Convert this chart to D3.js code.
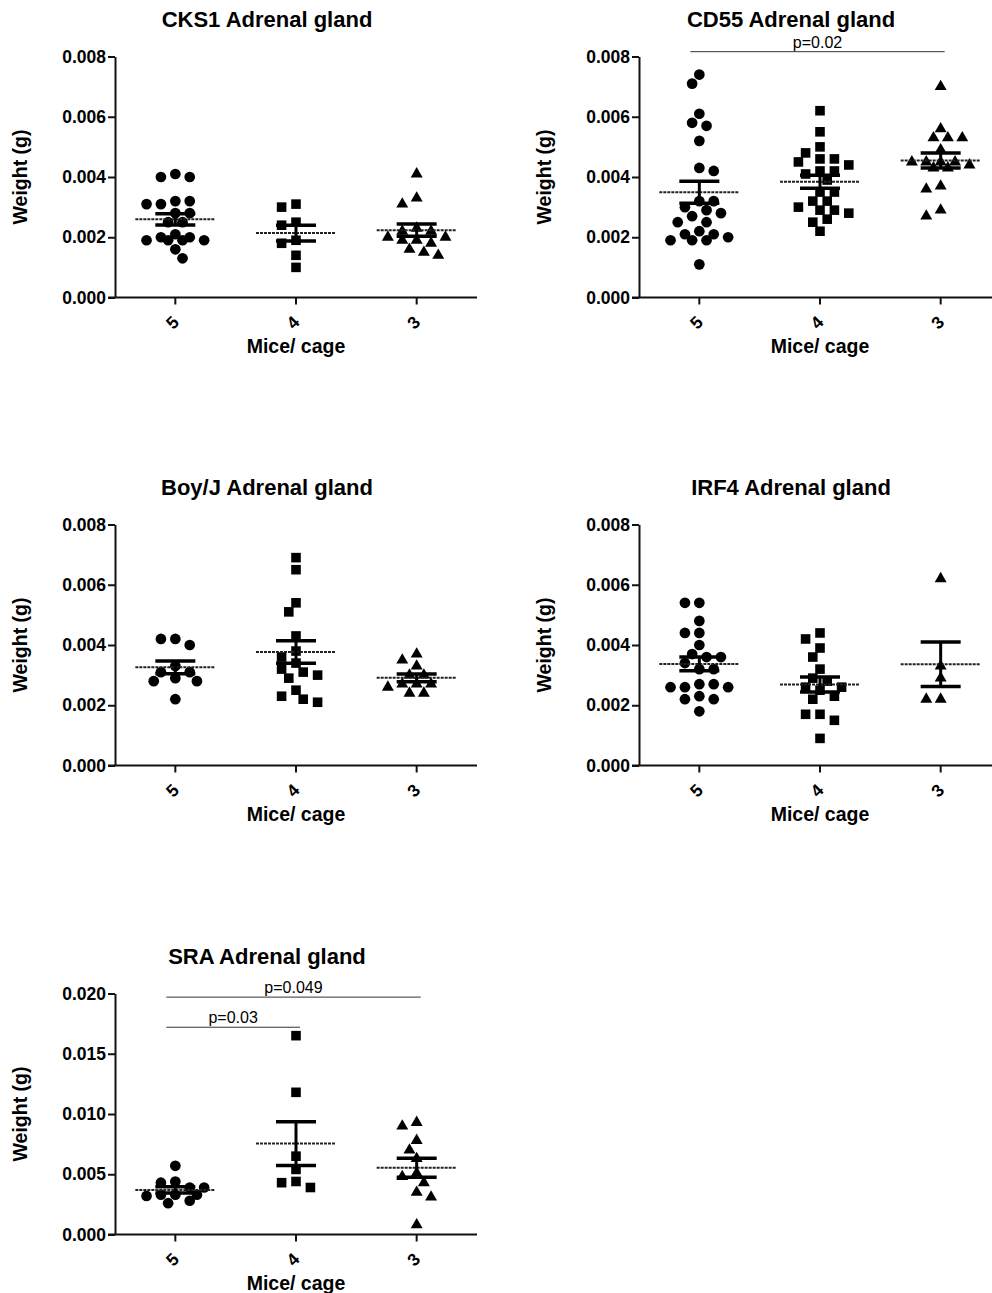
<!DOCTYPE html>
<html>
<head>
<meta charset="utf-8">
<script src="https://cdn.jsdelivr.net/npm/d3@7"></script>
<style>
  body { margin: 0; background: #fff; }
  text { font-family: "Liberation Sans", Arial, Helvetica, sans-serif; fill: #000; }
</style>
</head>
<body>
<svg id="chart" width="992" height="1293"></svg>
<script>
// Housing density groups (mice per cage)
const groups = ["5", "4", "3"];

// Adrenal gland weights (g), one array per strain and group
const cks1Five  = [0.0041, 0.0040, 0.0040, 0.0032, 0.0031, 0.0031, 0.0032, 0.0028, 0.0028, 0.0025,
                   0.0025, 0.0020, 0.0019, 0.0021, 0.0019, 0.0019, 0.0020, 0.0016, 0.0013, 0.0019];
const cks1Four  = [0.0031, 0.0030, 0.0024, 0.0025, 0.0019, 0.0018, 0.0014, 0.0010];
const cks1Three = [0.0041, 0.0031, 0.0033, 0.0023, 0.0022, 0.0022, 0.0020, 0.0019, 0.0019, 0.0018,
                   0.0016, 0.0014, 0.0015, 0.0020];

const cd55Five  = [0.0074, 0.0071, 0.0061, 0.0058, 0.0057, 0.0052, 0.0043, 0.0042, 0.0032, 0.0032,
                   0.0030, 0.0029, 0.0028, 0.0027, 0.0025, 0.0025, 0.0022, 0.0021, 0.0021, 0.0020,
                   0.0019, 0.0019, 0.0019, 0.0011];
const cd55Four  = [0.0062, 0.0055, 0.0050, 0.0048, 0.0046, 0.0046, 0.0045, 0.0044, 0.0042, 0.0042,
                   0.0041, 0.0039, 0.0035, 0.0035, 0.0032, 0.0030, 0.0029, 0.0029, 0.0028, 0.0026,
                   0.0025, 0.0022, 0.0032];
const cd55Three = [0.0070, 0.0056, 0.0053, 0.0053, 0.0053, 0.0049, 0.0045, 0.0045, 0.0045, 0.0045,
                   0.0043, 0.0043, 0.0044, 0.0037, 0.0036, 0.0029, 0.0027];

const boyFive   = [0.0042, 0.0042, 0.0040, 0.0031, 0.0031, 0.0028, 0.0028, 0.0029, 0.0033, 0.0022];
const boyFour   = [0.0069, 0.0065, 0.0054, 0.0051, 0.0043, 0.0038, 0.0036, 0.0034, 0.0032, 0.0031,
                   0.0030, 0.0029, 0.0025, 0.0023, 0.0021, 0.0022];
const boyThree  = [0.0037, 0.0035, 0.0033, 0.0030, 0.0030, 0.0026, 0.0027, 0.0027, 0.0027, 0.0024,
                   0.0024];

const irf4Five  = [0.0054, 0.0054, 0.0048, 0.0044, 0.0044, 0.0040, 0.0036, 0.0037, 0.0036, 0.0034,
                   0.0032, 0.0032, 0.0027, 0.0026, 0.0026, 0.0026, 0.0027, 0.0022, 0.0023, 0.0022,
                   0.0018];
const irf4Four  = [0.0044, 0.0042, 0.0039, 0.0036, 0.0032, 0.0029, 0.0028, 0.0026, 0.0026, 0.0025,
                   0.0022, 0.0023, 0.0017, 0.0017, 0.0015, 0.0009];
const irf4Three = [0.0062, 0.0033, 0.0029, 0.0022, 0.0022];

const sraFive   = [0.0057, 0.0044, 0.0043, 0.0039, 0.0039, 0.0032, 0.0033, 0.0033, 0.0033, 0.0026,
                   0.0028];
const sraFour   = [0.0165, 0.0118, 0.0065, 0.0054, 0.0044, 0.0043, 0.0039];
const sraThree  = [0.0093, 0.0090, 0.0078, 0.0070, 0.0063, 0.0051, 0.0048, 0.0043, 0.0035, 0.0031,
                   0.0008];

// Y axis tick values
const ticksSmall = [0, 0.002, 0.004, 0.006, 0.008];
const ticksLarge = [0, 0.005, 0.010, 0.015, 0.020];

// Pairwise comparisons shown above the groups
const cd55Comparisons = [{ from: "5", to: "3", value: 0.00816, label: "p=0.02" }];
const sraComparisons  = [
  { from: "5", to: "3", value: 0.0197, label: "p=0.049" },
  { from: "5", to: "4", value: 0.0172, label: "p=0.03" }
];

const titles = ["CKS1 Adrenal gland", "CD55 Adrenal gland", "Boy/J Adrenal gland",
                "IRF4 Adrenal gland", "SRA Adrenal gland"];

const panels = [
  { title: titles[0], series: [cks1Five, cks1Four, cks1Three], ticks: ticksSmall, comps: [], left: 115, top: 56.5 },
  { title: titles[1], series: [cd55Five, cd55Four, cd55Three], ticks: ticksSmall, comps: cd55Comparisons, left: 639, top: 56.5 },
  { title: titles[2], series: [boyFive, boyFour, boyThree], ticks: ticksSmall, comps: [], left: 115, top: 524.5 },
  { title: titles[3], series: [irf4Five, irf4Four, irf4Three], ticks: ticksSmall, comps: [], left: 639, top: 524.5 },
  { title: titles[4], series: [sraFive, sraFour, sraThree], ticks: ticksLarge, comps: sraComparisons, left: 115, top: 993.5 }
];

const plotW = 362, plotH = 241;
const symbolTypes = [d3.symbolCircle, d3.symbolSquare, d3.symbolTriangle];
const symbolSizes = [90, 92, 62];

const svg = d3.select("#chart");

// Beeswarm on half-symbol slots: each point (largest first) takes the slot nearest
// the centre that keeps a minimum distance; the spread is capped at maxSlots, and when
// every slot is crowded the least crowded one is used.
function swarm(values, y, step, maxSlots, minDist) {
  const order = values.map((v, i) => i).sort((a, b) => values[b] - values[a]);
  const placed = [];
  const out = new Array(values.length);
  let side = -1;
  order.forEach(i => {
    const py = y(values[i]);
    const cands = [0];
    for (let k = 1; k <= maxSlots; k++) cands.push(side * k * step, -side * k * step);
    const clearance = c => placed.length
      ? d3.min(placed, q => Math.hypot(q.dx - c, q.py - py)) : Infinity;
    let dx = cands.find(c => clearance(c) >= minDist);
    if (dx === undefined) dx = cands[d3.maxIndex(cands, clearance)];
    out[i] = { dx, py };
    placed.push(out[i]);
    if (dx !== 0) side = dx > 0 ? 1 : -1;
  });
  return out;
}

panels.forEach(p => {
  const g = svg.append("g");
  const yMax = p.ticks[p.ticks.length - 1];
  const y = d3.scaleLinear().domain([0, yMax]).range([p.top + plotH, p.top]);
  const x = d3.scalePoint().domain(groups).range([p.left, p.left + plotW]).padding(0.5);

  // Title
  g.append("text")
    .attr("x", p.left + 152).attr("y", p.top - 30)
    .attr("text-anchor", "middle")
    .style("font-size", "22px").style("font-weight", "bold")
    .text(p.title);

  // Y axis
  const yAxis = d3.axisLeft(y).tickValues(p.ticks).tickFormat(d3.format(".3f"))
    .tickSize(7).tickSizeOuter(0).tickPadding(2);
  const ya = g.append("g").attr("transform", `translate(${p.left},0)`).call(yAxis);
  ya.select(".domain").attr("stroke", "#111").attr("stroke-width", 2);
  ya.selectAll(".tick line").attr("stroke", "#111").attr("stroke-width", 2);
  ya.selectAll(".tick text")
    .style("font-size", "17.5px").style("font-weight", "bold")
    .style("font-family", "'Liberation Sans', Arial, sans-serif").attr("fill", "#000");

  // X axis baseline and category ticks
  const base = y(0);
  g.append("line")
    .attr("x1", p.left - 7).attr("x2", p.left + plotW)
    .attr("y1", base).attr("y2", base)
    .attr("stroke", "#111").attr("stroke-width", 2);
  groups.forEach(c => {
    g.append("line")
      .attr("x1", x(c)).attr("x2", x(c))
      .attr("y1", base).attr("y2", base + 7)
      .attr("stroke", "#111").attr("stroke-width", 2);
    g.append("text")
      .attr("transform", `translate(${x(c) - 3},${base + 25}) rotate(-45)`)
      .attr("text-anchor", "middle").attr("dominant-baseline", "central")
      .style("font-size", "17.5px").style("font-weight", "bold")
      .text(c);
  });

  // Axis titles
  g.append("text")
    .attr("transform", `translate(${p.left - 88},${p.top + plotH / 2}) rotate(-90)`)
    .attr("text-anchor", "middle")
    .style("font-size", "19.5px").style("font-weight", "bold")
    .text("Weight (g)");
  g.append("text")
    .attr("x", x(groups[1])).attr("y", base + 55)
    .attr("text-anchor", "middle")
    .style("font-size", "19.5px").style("font-weight", "bold")
    .text("Mice/ cage");

  // Points, mean and SEM for each group
  p.series.forEach((vals, gi) => {
    const cx = x(groups[gi]);
    const pos = swarm(vals, y, 7.2, 4, 10);
    const sym = d3.symbol().type(symbolTypes[gi]).size(symbolSizes[gi]);
    g.append("g").selectAll("path").data(vals).join("path")
      .attr("d", sym)
      .attr("transform", (d, i) => `translate(${cx + pos[i].dx},${pos[i].py})`)
      .attr("fill", "#000");

    const mean = d3.mean(vals);
    const sem = d3.deviation(vals) / Math.sqrt(vals.length);
    g.append("line")
      .attr("x1", cx - 40).attr("x2", cx + 40)
      .attr("y1", y(mean)).attr("y2", y(mean))
      .attr("stroke", "#222").attr("stroke-width", 2).attr("stroke-dasharray", "3,1");
    g.append("line")
      .attr("x1", cx).attr("x2", cx)
      .attr("y1", y(mean - sem)).attr("y2", y(mean + sem))
      .attr("stroke", "#000").attr("stroke-width", 3);
    [mean - sem, mean + sem].forEach(v => {
      g.append("line")
        .attr("x1", cx - 20).attr("x2", cx + 20)
        .attr("y1", y(v)).attr("y2", y(v))
        .attr("stroke", "#000").attr("stroke-width", 3.5);
    });
  });

  // Significance brackets
  p.comps.forEach(c => {
    const x1 = x(c.from) - 9, x2 = x(c.to) + 4;
    g.append("line")
      .attr("x1", x1).attr("x2", x2)
      .attr("y1", y(c.value)).attr("y2", y(c.value))
      .attr("stroke", "#333").attr("stroke-width", 1);
    g.append("text")
      .attr("x", (x1 + x2) / 2).attr("y", y(c.value) - 4)
      .attr("text-anchor", "middle")
      .style("font-size", "16px")
      .text(c.label);
  });
});
</script>
</body>
</html>
